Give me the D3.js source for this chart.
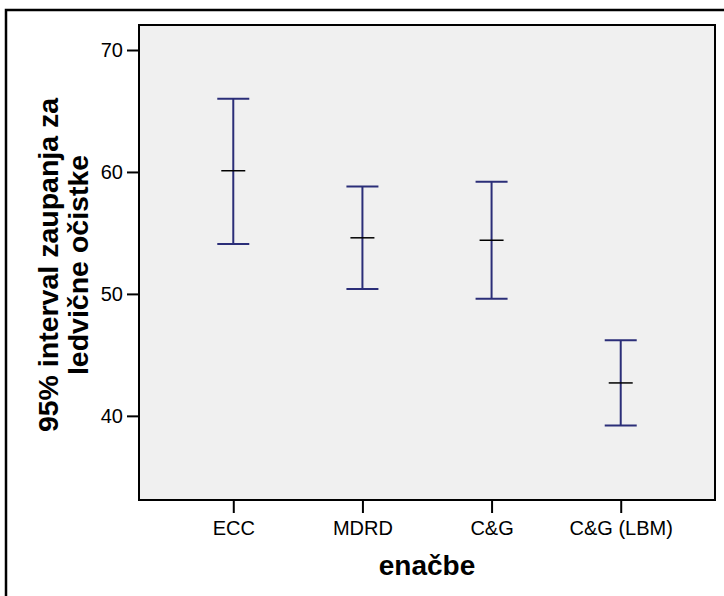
<!DOCTYPE html>
<html>
<head>
<meta charset="utf-8">
<script src="https://cdn.jsdelivr.net/npm/d3@7"></script>
<style>
  html, body { margin: 0; padding: 0; background: #fff; }
  svg { display: block; font-family: Arial, "Liberation Sans", sans-serif; }
</style>
</head>
<body>
<svg id="chart" width="724" height="596"></svg>
<script>
// Equations compared and their 95% confidence intervals for renal clearance
const categories = ["ECC", "MDRD", "C&G", "C&G (LBM)"];
const means  = [60.1, 54.6, 54.4, 42.7];
const lowers = [54.1, 50.4, 49.6, 39.2];
const uppers = [66.0, 58.8, 59.2, 46.2];
const yTicks = [40, 50, 60, 70];

const svg = d3.select("#chart");
const plot = { left: 139, top: 25, right: 715, bottom: 500 };
const fontFamily = "Arial, 'Liberation Sans', sans-serif";

// outer frame
svg.append("rect")
  .attr("x", 6).attr("y", 10)
  .attr("width", 740).attr("height", 620)
  .attr("fill", "#fff").attr("stroke", "#000").attr("stroke-width", 2.5);

// plot background
svg.append("rect")
  .attr("x", plot.left).attr("y", plot.top)
  .attr("width", plot.right - plot.left).attr("height", plot.bottom - plot.top)
  .attr("fill", "#f0f0f0");

const x = d3.scalePoint()
  .domain(categories)
  .range([plot.left, plot.right])
  .padding(0.73);

const y = d3.scaleLinear()
  .domain([33.1, 72.05])
  .range([plot.bottom, plot.top]);

// y axis
const yAxis = svg.append("g")
  .attr("transform", `translate(${plot.left},0)`)
  .call(d3.axisLeft(y).tickValues(yTicks).tickSize(12).tickPadding(4).tickFormat(d3.format("d")));
yAxis.select(".domain").remove();
yAxis.selectAll(".tick line").attr("stroke", "#000").attr("stroke-width", 2);
yAxis.selectAll(".tick text").attr("font-size", 20).attr("fill", "#000")
  .attr("font-family", fontFamily);

// x axis
const xAxis = svg.append("g")
  .attr("transform", `translate(0,${plot.bottom})`)
  .call(d3.axisBottom(x).tickSize(13).tickPadding(8));
xAxis.select(".domain").remove();
xAxis.selectAll(".tick line").attr("stroke", "#000").attr("stroke-width", 2);
xAxis.selectAll(".tick text").attr("font-size", 20).attr("fill", "#000")
  .attr("font-family", fontFamily);

// plot border
svg.append("rect")
  .attr("x", plot.left).attr("y", plot.top)
  .attr("width", plot.right - plot.left).attr("height", plot.bottom - plot.top)
  .attr("fill", "none").attr("stroke", "#000").attr("stroke-width", 2);

// error bars
const barColor = "#2b2e78";
const capHalf = 16, meanHalf = 12;
const rows = categories.map((c, i) => ({ c, m: means[i], lo: lowers[i], hi: uppers[i] }));
const g = svg.append("g");
g.selectAll(".whisker").data(rows).join("line")
  .attr("x1", d => x(d.c)).attr("x2", d => x(d.c))
  .attr("y1", d => y(d.hi)).attr("y2", d => y(d.lo))
  .attr("stroke", barColor).attr("stroke-width", 2);
g.selectAll(".capTop").data(rows).join("line")
  .attr("x1", d => x(d.c) - capHalf).attr("x2", d => x(d.c) + capHalf)
  .attr("y1", d => y(d.hi)).attr("y2", d => y(d.hi))
  .attr("stroke", barColor).attr("stroke-width", 2);
g.selectAll(".capBot").data(rows).join("line")
  .attr("x1", d => x(d.c) - capHalf).attr("x2", d => x(d.c) + capHalf)
  .attr("y1", d => y(d.lo)).attr("y2", d => y(d.lo))
  .attr("stroke", barColor).attr("stroke-width", 2);
g.selectAll(".mean").data(rows).join("line")
  .attr("x1", d => x(d.c) - meanHalf).attr("x2", d => x(d.c) + meanHalf)
  .attr("y1", d => y(d.m)).attr("y2", d => y(d.m))
  .attr("stroke", "#000").attr("stroke-width", 1.5);

// axis titles
svg.append("text")
  .attr("x", (plot.left + plot.right) / 2).attr("y", 575)
  .attr("text-anchor", "middle")
  .attr("font-size", 28).attr("font-weight", "bold")
  .text("enačbe");

const yTitle = svg.append("text")
  .attr("transform", `translate(58,265) rotate(-90)`)
  .attr("text-anchor", "middle")
  .attr("font-size", 28.5).attr("font-weight", "bold");
yTitle.append("tspan").attr("x", 0).attr("y", 0).text("95% interval zaupanja za");
yTitle.append("tspan").attr("x", 0).attr("y", 30).text("ledvične očistke");
</script>
</body>
</html>
